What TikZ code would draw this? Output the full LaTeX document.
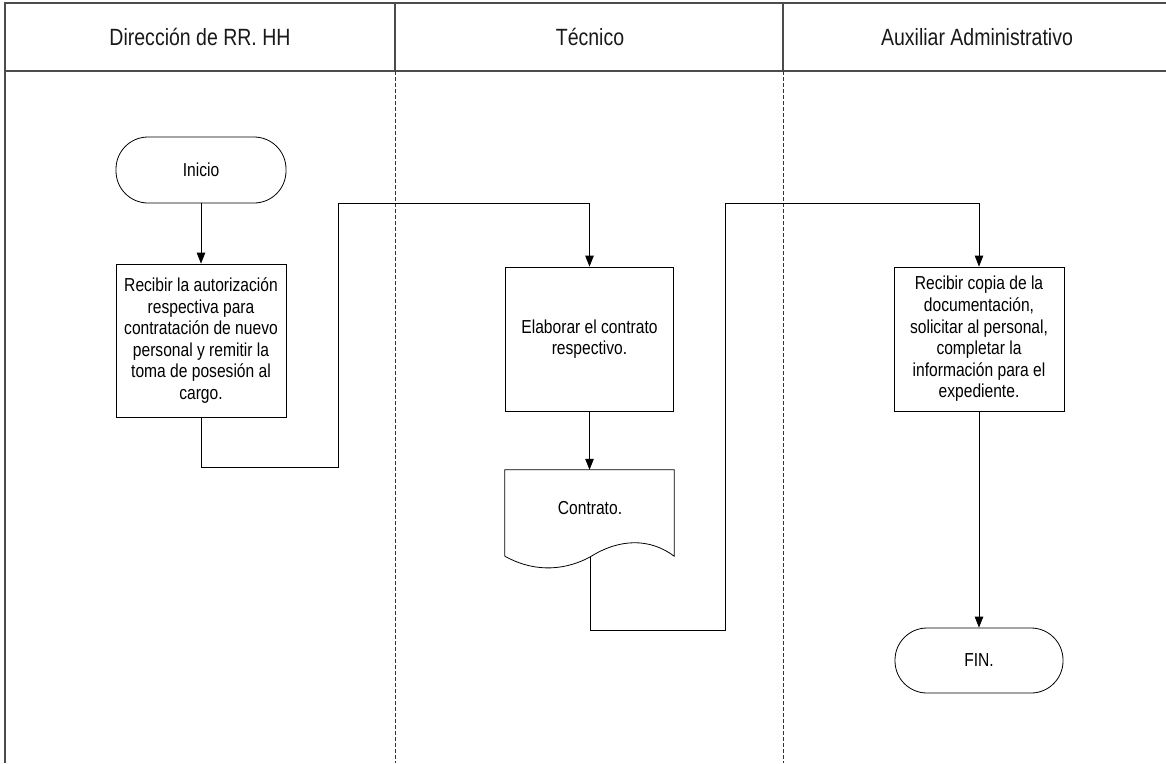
\documentclass[tikz,border=0pt]{standalone}
\usepackage{fontspec}
\setmainfont{Liberation Sans}[FakeStretch=0.83]
\usetikzlibrary{arrows.meta}

\newcommand\boxfont{\fontsize{18.8}{21.6}\selectfont}
\newcommand\headfont{\fontsize{23.5}{28}\selectfont}

\tikzset{
  frame/.style={draw=black!70, line width=1.4pt},
  lanesep/.style={draw=black!80, line width=0.8pt, dash pattern=on 4pt off 2pt},
  head/.style={font=\headfont, text=black!90},
  proc/.style={draw, line width=0.8pt, minimum width=170pt, align=center,
    font=\boxfont, inner sep=0pt},
  term/.style={draw, line width=0.8pt, rounded corners=32pt, minimum width=170pt,
    minimum height=66pt, font=\boxfont, inner sep=0pt},
  flow/.style={draw, line width=0.8pt, -{Triangle[length=11pt,width=8.5pt]}}
}

\begin{document}
\begin{tikzpicture}[x=1pt, y=-1pt]
\useasboundingbox (0,0) rectangle (1166,763);

% swimlane frame and header
\draw[frame] (5,763) -- (5,3) -- (1166,3);
\draw[frame] (5,71) -- (1166,71);
\draw[frame] (395,3) -- (395,71);
\draw[frame] (783,3) -- (783,71);
\draw[lanesep] (395,71) -- (395,763);
\draw[lanesep] (783,71) -- (783,763);

\node[head] (h1) at (200,37) {Dirección de RR. HH};
\node[head] (h2) at (590,37) {Técnico};
\node[head] (h3) at (977,37) {Auxiliar Administrativo};

% lane 1
\node[term] (inicio) at (201,170) {Inicio};
\node[proc, minimum height=153pt] (b1) at (201,340.5)
  {Recibir la autorización\\respectiva para\\contratación de nuevo\\personal y remitir la\\toma de posesión al\\cargo.};

% lane 2
\node[proc, minimum height=144pt, minimum width=168pt] (b2) at (589.5,339)
  {Elaborar el contrato\\respectivo.};
\node[minimum width=169pt, minimum height=86pt, inner sep=0pt] (doc) at (589.5,513) {};
\coordinate (docout) at (590,557);
\draw[line width=0.8pt] (doc.south west) -- (doc.north west) -- (doc.north east)
  -- (doc.south east) .. controls +(-24,-18) and +(30,-19) .. (docout)
  .. controls +(-30,16) and +(25,14) .. (doc.south west);
\node[font=\boxfont] (doctext) at (590,508) {Contrato.};

% lane 3
\node[proc, minimum height=144pt] (b3) at (979,339)
  {Recibir copia de la\\documentación,\\solicitar al personal,\\completar la\\información para el\\expediente.};
\node[term, minimum width=168pt, minimum height=65pt] (fin) at (979,660.5) {FIN.};

% connectors
\draw[flow] (inicio.south) -- (b1.north);
\draw[flow] (b1.south) -- ++(0,50) -| (338,203) -| (b2.north);
\draw[flow] (b2.south) -- (doc.north);
\draw[flow] (docout) -- ++(0,73) -| (725,203) -| (b3.north);
\draw[flow] (b3.south) -- (fin.north);
\end{tikzpicture}
\end{document}
